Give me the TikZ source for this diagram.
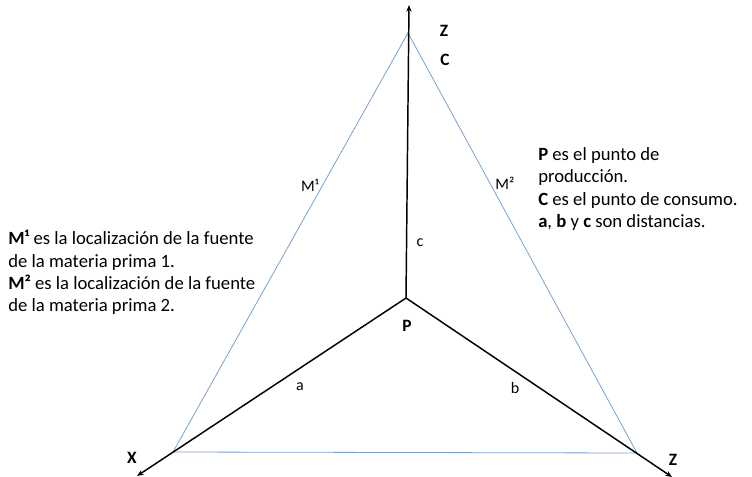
\documentclass[tikz,border=0pt]{standalone}
\usepackage{fontspec}
\setmainfont{Carlito}
\usepackage{tikz}
\usetikzlibrary{arrows.meta,positioning}
\definecolor{tri_blue}{RGB}{120,160,205}

\begin{document}
\begin{tikzpicture}[
      x=0.75pt, y=-0.75pt,
      axis/.style={-{Stealth[length=5pt,width=4pt]}, black, line width=1.1pt},
      side/.style={draw=tri_blue, line width=0.6pt},
      lbl/.style={font=\fontsize{12}{14}\selectfont, inner sep=1pt},
      vtx/.style={font=\fontsize{13}{15}\selectfont\bfseries, inner sep=1pt},
      note/.style={font=\fontsize{14}{16.8}\selectfont, align=left, inner sep=0pt},
    ]
    \useasboundingbox (0,0) rectangle (752,477);

    % vertices
    \coordinate (C) at (408,33);
    \coordinate (X) at (173,452);
    \coordinate (Z) at (637,453);
    \coordinate (P) at (406,298);
    \coordinate (ztop) at (409,5);
    \coordinate (xend) at (137,476);
    \coordinate (zend) at (672,477);

    % triangle
    \draw[side] (C) -- (X) -- (Z) -- cycle;

    % distances
    \draw[axis] (P) -- (ztop);
    \draw[axis] (P) -- (xend);
    \draw[axis] (P) -- (zend);

    % vertex labels
    \node[vtx] (zlbl) at (444,31) {Z};
    \node[vtx] (clbl) at (445,60) {C};
    \node[vtx] (xlbl) at (132,458) {X};
    \node[vtx] (zlbl2) at (673,460) {Z};
    \node[vtx] (plbl) at (407,326) {P};

    % side labels
    \node[lbl] (m1) at (310,185) {M¹};
    \node[lbl] (m2) at (505,183) {M²};
    \node[lbl] (c) at (420,243) {c};
    \node[lbl] (a) at (300,387) {a};
    \node[lbl] (b) at (515,388) {b};

    % notes
    \node[note, anchor=north west] (left) at (8,230)
      {\textbf{M¹} es la localización de la fuente\\
       de la materia prima 1.\\
       \textbf{M²} es la localización de la fuente\\
       de la materia prima 2.};
    \node[note, anchor=north west] (right) at (538,147)
      {\textbf{P} es el punto de\\
       producción.\\
       \textbf{C} es el punto de consumo.\\
       \textbf{a}, \textbf{b} y \textbf{c} son distancias.};
  \end{tikzpicture}
\end{document}
